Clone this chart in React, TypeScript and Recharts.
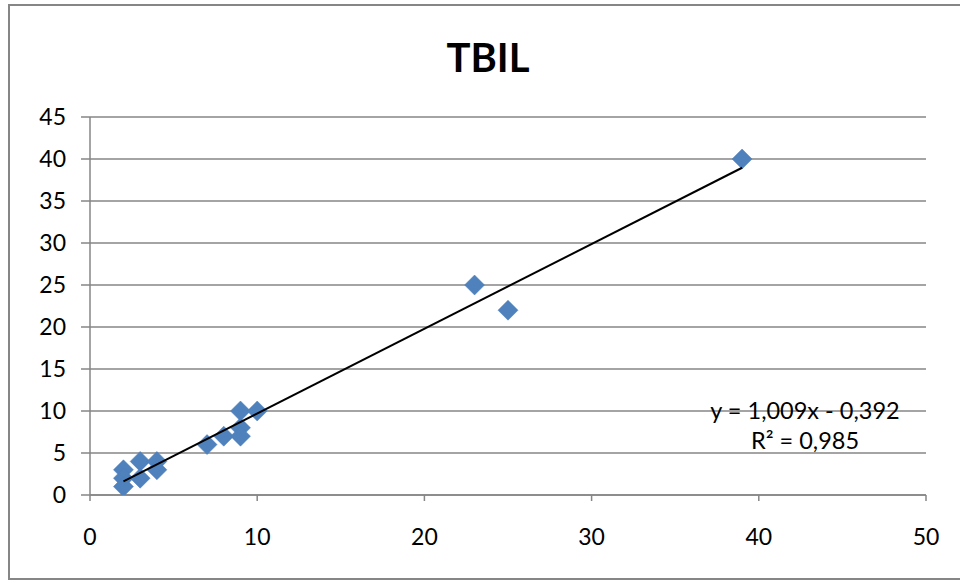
import React from "react";
import { ScatterChart, Scatter, XAxis, YAxis, CartesianGrid } from "recharts";

const xValues = [2, 2, 2, 3, 3, 4, 4, 7, 8, 9, 9, 9, 10, 23, 25, 39];
const yValues = [3, 2, 1, 4, 2, 4, 3, 6, 7, 10, 8, 7, 10, 25, 22, 40];
const xTicks = [0, 10, 20, 30, 40, 50];
const yTicks = [0, 5, 10, 15, 20, 25, 30, 35, 40, 45];
const trendSlope = 1.009;
const trendIntercept = -0.392;
const trendRange = [2, 39];
const title = "TBIL";
const equationText = "y = 1,009x - 0,392";
const r2Text = "R² = 0,985";

const points = xValues.map((x, i) => ({ x, y: yValues[i] }));
const trendData = trendRange.map((x) => ({ x, y: trendSlope * x + trendIntercept }));

const GRID = "#868686";
const FONT = "Lato, 'Open Sans', sans-serif";

const Diamond = (props: any) => {
  const { cx, cy } = props;
  if (cx == null || cy == null) return <g />;
  const r = 10;
  return (
    <polygon
      points={`${cx},${cy - r} ${cx + r},${cy} ${cx},${cy + r} ${cx - r},${cy}`}
      fill="#4F81BD"
      stroke="#4A7EBB"
      strokeWidth={0.5}
    />
  );
};

const NoShape = () => <g />;

export default function App() {
  return (
    <div style={{ position: "absolute", left: 0, top: 0, width: 960, height: 583, background: "#fff", overflow: "hidden", fontFamily: FONT }}>
      <div
        style={{
          position: "absolute",
          left: 8,
          top: 4,
          width: 980,
          height: 576,
          border: "2px solid #868686",
          boxSizing: "border-box",
        }}
      />
      <div
        style={{
          position: "absolute",
          left: 388,
          width: 200,
          top: 33,
          textAlign: "center",
          fontSize: 40,
          fontWeight: 700,
          lineHeight: "48px",
          color: "#000",
        }}
      >
        {title}
      </div>
      <div style={{ position: "absolute", left: 0, top: 0 }}>
        <ScatterChart width={960} height={583} margin={{ top: 117, right: 34, bottom: 0, left: 0 }}>
          <CartesianGrid vertical={false} stroke={GRID} strokeWidth={1.5} />
          <XAxis
            type="number"
            dataKey="x"
            domain={[0, 50]}
            ticks={xTicks}
            height={88}
            tickSize={6}
            tickMargin={28}
            stroke={GRID}
            strokeWidth={1.5}
            tick={{ fill: "#000", fontSize: 23, fontFamily: FONT }}
            allowDataOverflow
          />
          <YAxis
            type="number"
            dataKey="y"
            domain={[0, 45]}
            ticks={yTicks}
            width={90}
            tickSize={9}
            tickMargin={15}
            stroke={GRID}
            strokeWidth={1.5}
            tick={{ fill: "#000", fontSize: 23, fontFamily: FONT }}
            allowDataOverflow
          />
          <Scatter data={points} shape={Diamond} isAnimationActive={false} />
          <Scatter
            data={trendData}
            line={{ stroke: "#000", strokeWidth: 2 }}
            shape={NoShape}
            isAnimationActive={false}
            legendType="none"
          />
        </ScatterChart>
      </div>
      <div
        style={{
          position: "absolute",
          left: 705,
          width: 200,
          top: 395,
          textAlign: "center",
          fontSize: 23.5,
          lineHeight: "30px",
          color: "#000",
        }}
      >
        <div>{equationText}</div>
        <div>{r2Text}</div>
      </div>
    </div>
  );
}
